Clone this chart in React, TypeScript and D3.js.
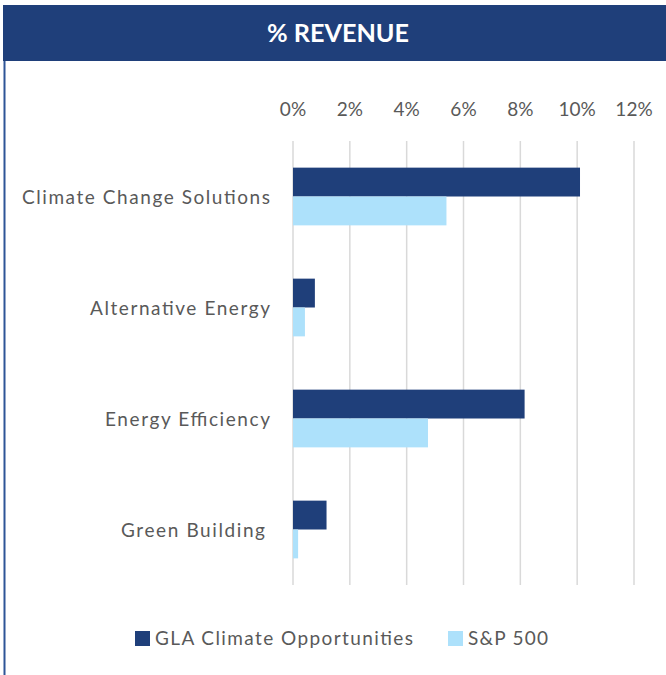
import React, { useEffect } from "react";
import * as d3 from "d3";

const categories = [
  "Climate Change Solutions",
  "Alternative Energy",
  "Energy Efficiency",
  "Green Building",
];
const seriesNames = ["GLA Climate Opportunities", "S&P 500"];
const glaValues = [10.1, 0.77, 8.15, 1.18];
const spValues = [5.4, 0.42, 4.75, 0.18];
const xTicks = [0, 2, 4, 6, 8, 10, 12];

const W = 666;
const H = 675;
const colors = ["#1F3F7A", "#ADE1FB"];
const font = "Lato, 'Open Sans', sans-serif";
// label widths as they appear (Calibri, spaced)
const labelWidths = [248, 180, 165, 144];
const labelRight = [270, 270, 270, 265];
const legendX = [135, 448];
const legendWidths = [258, 80];

export default function App() {
  useEffect(() => {
    document.body.style.margin = "0";
  }, []);

  const plot = { left: 293, right: 634, top: 141, bottom: 585 };

  const x = d3.scaleLinear().domain([0, 12]).range([plot.left, plot.right]);
  const y = d3
    .scaleBand()
    .domain(categories)
    .range([plot.top, plot.bottom])
    .paddingInner(0.48)
    .paddingOuter(0.24);
  const sub = d3
    .scaleBand()
    .domain(seriesNames)
    .range([0, y.bandwidth()]);

  const series = [glaValues, spValues];

  return (
    <svg width={W} height={H} style={{ display: "block" }}>
      <rect x={0} y={0} width={W} height={H} fill="#fff" />
      {/* header band */}
      <rect x={3} y={5} width={W - 3} height={56} fill="#1F3F7A" />
      <text
        x={338}
        y={42}
        textAnchor="middle"
        fill="#fff"
        fontFamily={font}
        fontWeight="bold"
        fontSize={25}
        textLength={142}
        lengthAdjust="spacingAndGlyphs"
      >
        % REVENUE
      </text>
      <line x1={4.5} x2={4.5} y1={61} y2={H} stroke="#2E5597" strokeWidth={2} />

      {/* gridlines + ticks */}
      {xTicks.map((t) => (
        <g key={t}>
          <line
            x1={x(t)}
            x2={x(t)}
            y1={plot.top}
            y2={plot.bottom}
            stroke="#D9D9D9"
            strokeWidth={1.5}
          />
          <text
            x={x(t)}
            y={116}
            textAnchor="middle"
            fill="#595959"
            fontFamily={font}
            fontSize={19}
          >
            {t}%
          </text>
        </g>
      ))}

      {/* bars */}
      {categories.map((c, i) => (
        <g key={c}>
          {series.map((vals, s) => (
            <rect
              key={s}
              x={x(0)}
              y={(y(c) as number) + (sub(seriesNames[s]) as number)}
              width={x(vals[i]) - x(0)}
              height={sub.bandwidth()}
              fill={colors[s]}
            />
          ))}
          <text
            x={labelRight[i] - labelWidths[i]}
            y={(y(c) as number) + y.bandwidth() / 2 + 7}
            fill="#595959"
            fontFamily={font}
            fontSize={19}
            textLength={labelWidths[i]}
            lengthAdjust="spacing"
          >
            {c}
          </text>
        </g>
      ))}

      {/* legend */}
      {seriesNames.map((name, s) => (
        <g key={name}>
          <rect x={legendX[s]} y={631} width={15} height={15} fill={colors[s]} />
          <text
            x={legendX[s] + 20}
            y={645}
            fill="#595959"
            fontFamily={font}
            fontSize={19}
            textLength={legendWidths[s]}
            lengthAdjust="spacing"
          >
            {name}
          </text>
        </g>
      ))}
    </svg>
  );
}
